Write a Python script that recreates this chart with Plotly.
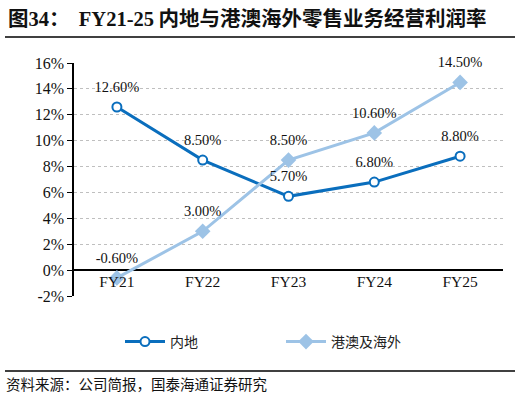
import plotly.graph_objects as go

categories = ["FY21", "FY22", "FY23", "FY24", "FY25"]
mainland = [12.6, 8.5, 5.7, 6.8, 8.8]
overseas = [-0.6, 3.0, 8.5, 10.6, 14.5]
tick_vals = [-2, 0, 2, 4, 6, 8, 10, 12, 14, 16]
tick_text = [f"{v}%" for v in tick_vals]

serif = "Liberation Serif, Times New Roman, serif"
cjk = "Noto Sans CJK SC"
dark_blue = "#0A6EBD"
light_blue = "#9DC3E6"
label_font = dict(family=serif, size=14.5, color="#111")

fig = go.Figure()
fig.add_trace(go.Scatter(
    x=categories, y=mainland, name="内地", mode="lines+markers",
    line=dict(color=dark_blue, width=3),
    marker=dict(symbol="circle", size=9, color="white", line=dict(color=dark_blue, width=2)),
))
fig.add_trace(go.Scatter(
    x=categories, y=overseas, name="港澳及海外", mode="lines+markers",
    line=dict(color=light_blue, width=3),
    marker=dict(symbol="diamond", size=12, color=light_blue),
))
for vals in (mainland, overseas):
    fig.add_trace(go.Scatter(
        x=categories, y=vals, mode="markers+text", showlegend=False, hoverinfo="skip",
        marker=dict(size=17, opacity=0), cliponaxis=False,
        text=[f"{v:.2f}%" for v in vals], textposition="top center", textfont=label_font,
    ))

fig.update_layout(
    width=521, height=398,
    margin=dict(l=74, r=18, t=63, b=102, autoexpand=False),
    paper_bgcolor="white", plot_bgcolor="white",
    showlegend=True,
    legend=dict(orientation="h", x=(120 - 74) / 429, xanchor="left",
                y=-(326 - 296) / 233, yanchor="top",
                font=dict(family=cjk, size=14, color="#222"), itemwidth=40,
                entrywidthmode="pixels", entrywidth=106),
    xaxis=dict(
        type="category", range=[-0.5, 4.5], anchor="free", position=2/18,
        showline=False, ticks="", showgrid=False,
        tickfont=dict(family=serif, size=15.5, color="#111"),
        fixedrange=True,
    ),
    yaxis=dict(
        range=[-2, 16], tickvals=tick_vals, ticktext=tick_text,
        showline=True, linecolor="black", linewidth=1.5,
        ticks="outside", ticklen=5, tickcolor="black",
        showgrid=True, gridcolor="#BFBFBF", griddash="dot", gridwidth=1,
        zeroline=True, zerolinecolor="black", zerolinewidth=1.5,
        tickfont=dict(family=serif, size=16, color="#111"),
        fixedrange=True,
    ),
)

fig.add_annotation(
    text=("<b>图<span style='font-family:Liberation Serif'>34</span>："
          "  <span style='font-family:Liberation Serif'>FY21-25</span> 内地与港澳海外零售业务经营利润率</b>"),
    xref="paper", yref="paper", x=-68/429, y=1 + (63 - 17) / 233,
    xanchor="left", yanchor="middle", showarrow=False,
    font=dict(family=cjk, size=20.5, color="#111"),
)
fig.add_annotation(
    text="资料来源：公司简报，国泰海通证券研究",
    xref="paper", yref="paper", x=-70/429, y=-(383 - 296) / 233,
    xanchor="left", yanchor="middle", showarrow=False,
    font=dict(family=cjk, size=14.5, color="#111"),
)
fig.add_shape(type="line", xref="paper", yref="paper",
              x0=-69/429, x1=(515 - 74) / 429, y0=1 + (63 - 37) / 233, y1=1 + (63 - 37) / 233,
              line=dict(color="black", width=1.5))
fig.add_shape(type="line", xref="paper", yref="paper",
              x0=-69/429, x1=(515 - 74) / 429, y0=-(371 - 296) / 233, y1=-(371 - 296) / 233,
              line=dict(color="black", width=1.5))

fig.write_html("out.html", config={"displayModeBar": False},
               post_script="document.body.style.margin='0';document.body.style.overflow='hidden';")
